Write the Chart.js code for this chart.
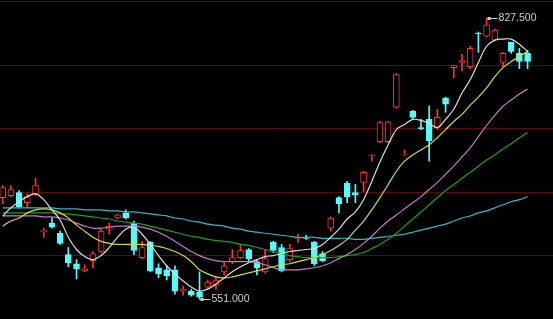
<!DOCTYPE html>
<html>
<head>
<meta charset="utf-8">
<script src="https://cdn.jsdelivr.net/npm/chart.js@4.4.0/dist/chart.umd.min.js"></script>
<style>
  html, body { margin: 0; padding: 0; background: #000; }
  #wrap { width: 553px; height: 319px; position: relative; }
</style>
</head>
<body>
<div id="wrap"><canvas id="kChart"></canvas></div>
<script>
// daily candles
const opens = [651,653,656,646,654,617.5,626,616,595,586, 579,589,598,620,631,636,626,592,607,582,
  580,580,559,559,558,563,565,578,588,592, 600,588,578,607,602,590,611,612,607,596,
  621,651,665,656,666,692,706,706,740,693, 736,720,728,720,749,779,784,780,813,810,
  806,784,804,793,793];
const highs = [663,663,658,655,670,621,631,618,602,590, 585,598,620,626,635,639,628,608,608,586,
  584,584,564,561,578,570,573,587,600,604, 601,590,600,608,605,605,615,614,608,598,
  632,652,667,664,677,693.5,726,726,773,698, 737,728,741,738,750,781,792,800,814,827.5,
  817,794,804,798,796];
const lows = [645,652,641,641,653,612,621,605,583,571, 578,582,597,615,630,630,595,591,578,572,
  570,556,555,554,551,561,561,575,586,591, 588,575,577,597,578,588,607,610,584,588,
  618,636,646,646,657,687,705,705,739,692.5, 728,718,687,718,735,769,776,778,794,809,
  805,780,793,778,778];
const closes = [661,659,642,652,663,618.5,622,606,587,581, 581,596,618,623,634,631,599,602,579,576,
  574,559,561,555,553,568,570,584,592,599, 591,582,591,599,579,601,612,611,586,589,
  631,645,652,654,676,693,725,725.5,772,693.5, 730,719,707,730,743,781,786,798,812,821,
  816,793,795,785,785];

// moving average lines
const ma5 = [633,641,647,652,655,649,639,629,612,600, 593,590,594,602,612,620,622,615,605,594,
  584,576,569,563,559,561,566,572,578,583, 587,590,593,594,596,598,599,600,601,605,
  612,620,630,637,649,667,686,703,718,723, 728,727,724,720,728,738,754,767,784,800,
  806,807,807,802,795];
const ma10 = [623,628,631,636,639,640,639,636,631,624, 618,612,608,606,605,605,605,605,604,603,
  601,598,594,588,580,576,573,572,573,575, 577,579,581,583,585,586,588,590,592,595,
  599,604,610,619,628,639,651,664,677,687, 693,698,703,710,718,726,733,742,750,759,
  770,779,785,790,795];
const ma20 = [633,633,633,633,633,632,632,631,629,626, 623,621,621,622,623,623,623,622,620,617,
  613,608,603,598,594,591,589,588,588,588, 588,587,585,582,580,580,580,581,582,584,
  587,591,595,600,606,613,621,628,634,640, 646,652,659,666,674,682,691,700,711,722,
  732,741,747,753,758];
const ma30 = [636,636,636,636,636,636,636,635,635,634, 633,632,631,630,628,627,626,625,623,621,
  619,617,615,613,612,610,609,608,607,605, 604,602,600,598,596,594,593,592,592,592,
  592,593,594,595,597,601,605,610,616,623, 630,637,644,651,658,664,670,676,682,688,
  693,699,704,710,715];
const ma60 = [641,641,641,641,641,641,641,640,640,640, 639,639,639,638,638,637,637,636,635,634,
  633,631,630,628,627,625,624,623,621,620, 618,617,616,615,614,613,612,612,612,611,
  611,611,611,610,610,611,612,613,614,615, 617,619,621,623,625,628,631,633,636,638,
  641,644,647,649,652];

const gridLevels = [844.5, 781.5, 719.5, 656.5, 594.5];

const upColor = '#ff3232';
const downColor = '#54fcfc';

const isUp = closes.map((c, i) => c >= opens[i]);
const bodies = opens.map((o, i) => ({ x: i, y: [Math.min(o, closes[i]), Math.max(o, closes[i])] }));
const wicks = lows.map((l, i) => ({ x: i, y: [l, highs[i]] }));

function toPoints(arr) {
  return arr.map((v, i) => ({ x: i, y: v }));
}

function maLine(data, color) {
  return {
    type: 'line',
    data: toPoints(data),
    borderColor: color,
    borderWidth: 1.2,
    pointRadius: 0,
    tension: 0.35,
    order: 0
  };
}

// horizontal dark red grid
const gridPlugin = {
  id: 'gridLines',
  beforeDatasetsDraw(chart) {
    const { ctx, chartArea, scales } = chart;
    ctx.save();
    ctx.strokeStyle = '#5a0c0c';
    ctx.lineWidth = 1;
    gridLevels.forEach(v => {
      const y = Math.round(scales.y.getPixelForValue(v)) + 0.5;
      ctx.beginPath();
      ctx.moveTo(chartArea.left, y);
      ctx.lineTo(chartArea.right, y);
      ctx.stroke();
    });
    ctx.restore();
  }
};

// max / min markers
const extremesPlugin = {
  id: 'extremes',
  afterDatasetsDraw(chart) {
    const { ctx, scales } = chart;
    const hi = Math.max(...highs);
    const lo = Math.min(...lows);
    const marks = [
      { idx: highs.indexOf(hi), val: hi },
      { idx: lows.indexOf(lo), val: lo }
    ];
    ctx.save();
    ctx.font = '10.5px "Liberation Sans", Arial, sans-serif';
    ctx.textBaseline = 'middle';
    ctx.fillStyle = '#cfcfcf';
    ctx.strokeStyle = '#cfcfcf';
    ctx.lineWidth = 1;
    marks.forEach(m => {
      const x = scales.x.getPixelForValue(m.idx) + 1;
      const y = Math.round(scales.y.getPixelForValue(m.val)) + 0.5;
      ctx.fillRect(x, y - 1.5, 3, 3);
      ctx.beginPath();
      ctx.moveTo(x, y);
      ctx.lineTo(x + 10, y);
      ctx.stroke();
      ctx.fillText(m.val.toFixed(3), x + 11, y);
    });
    ctx.restore();
  }
};

new Chart(document.getElementById('kChart'), {
  type: 'bar',
  data: {
    datasets: [
      maLine(ma5, '#dcdcdc'),
      maLine(ma10, '#d8d830'),
      maLine(ma20, '#c878c8'),
      maLine(ma30, '#1ea01e'),
      maLine(ma60, '#30b8c8'),
      {
        data: bodies,
        backgroundColor: isUp.map(u => u ? '#000000' : downColor),
        borderColor: isUp.map(u => u ? upColor : downColor),
        borderWidth: 1,
        borderSkipped: false,
        barThickness: 6,
        grouped: false,
        order: 1
      },
      {
        data: wicks,
        backgroundColor: isUp.map(u => u ? upColor : downColor),
        borderWidth: 0,
        barThickness: 1,
        grouped: false,
        order: 2
      }
    ]
  },
  options: {
    responsive: true,
    maintainAspectRatio: false,
    animation: false,
    layout: { padding: 0 },
    plugins: {
      legend: { display: false },
      tooltip: { enabled: false }
    },
    scales: {
      x: { type: 'linear', min: -0.33, max: 67.1, offset: false, display: false },
      y: { min: 531.6, max: 845.5, display: false }
    }
  },
  plugins: [gridPlugin, extremesPlugin]
});
</script>
</body>
</html>
